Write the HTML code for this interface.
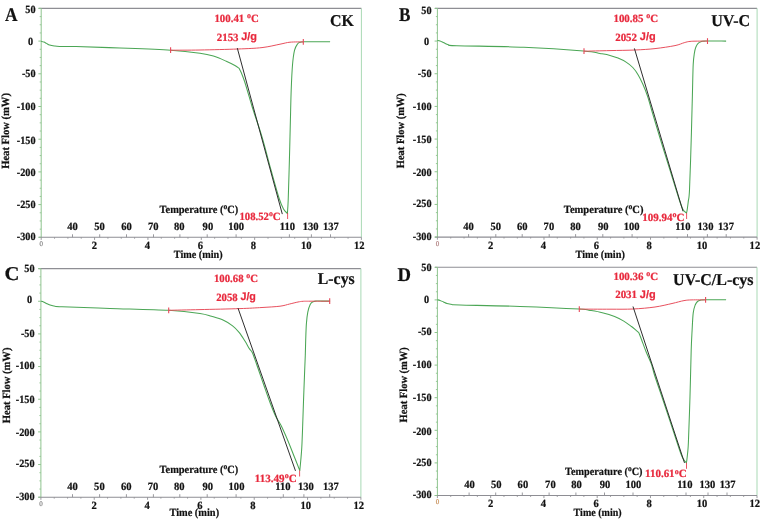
<!DOCTYPE html>
<html><head><meta charset="utf-8"><style>
html,body{margin:0;padding:0;background:#fff;}
svg{display:block;text-rendering:geometricPrecision;filter:blur(0.3px);}
</style></head><body>
<svg width="764" height="521" viewBox="0 0 764 521">
<rect width="764" height="521" fill="#fff"/>
<line x1="38.70" y1="8.40" x2="361.40" y2="8.40" stroke="#8e8e94" stroke-width="1.1"/>
<line x1="361.40" y1="8.40" x2="361.40" y2="237.30" stroke="#a9d9b5" stroke-width="1"/>
<line x1="41.20" y1="8.40" x2="41.20" y2="237.30" stroke="#8fc48f" stroke-width="1"/>
<line x1="38.70" y1="237.30" x2="361.40" y2="237.30" stroke="#8e8e94" stroke-width="1.1"/>
<line x1="38.40" y1="8.40" x2="41.20" y2="8.40" stroke="#8fc48f" stroke-width="1"/>
<line x1="39.70" y1="16.58" x2="41.20" y2="16.58" stroke="#8fc48f" stroke-width="0.9"/>
<line x1="39.70" y1="24.75" x2="41.20" y2="24.75" stroke="#8fc48f" stroke-width="0.9"/>
<line x1="39.70" y1="32.93" x2="41.20" y2="32.93" stroke="#8fc48f" stroke-width="0.9"/>
<line x1="38.40" y1="41.10" x2="41.20" y2="41.10" stroke="#8fc48f" stroke-width="1"/>
<line x1="39.70" y1="49.27" x2="41.20" y2="49.27" stroke="#8fc48f" stroke-width="0.9"/>
<line x1="39.70" y1="57.45" x2="41.20" y2="57.45" stroke="#8fc48f" stroke-width="0.9"/>
<line x1="39.70" y1="65.62" x2="41.20" y2="65.62" stroke="#8fc48f" stroke-width="0.9"/>
<line x1="38.40" y1="73.80" x2="41.20" y2="73.80" stroke="#8fc48f" stroke-width="1"/>
<line x1="39.70" y1="81.98" x2="41.20" y2="81.98" stroke="#8fc48f" stroke-width="0.9"/>
<line x1="39.70" y1="90.15" x2="41.20" y2="90.15" stroke="#8fc48f" stroke-width="0.9"/>
<line x1="39.70" y1="98.33" x2="41.20" y2="98.33" stroke="#8fc48f" stroke-width="0.9"/>
<line x1="38.40" y1="106.50" x2="41.20" y2="106.50" stroke="#8fc48f" stroke-width="1"/>
<line x1="39.70" y1="114.68" x2="41.20" y2="114.68" stroke="#8fc48f" stroke-width="0.9"/>
<line x1="39.70" y1="122.85" x2="41.20" y2="122.85" stroke="#8fc48f" stroke-width="0.9"/>
<line x1="39.70" y1="131.03" x2="41.20" y2="131.03" stroke="#8fc48f" stroke-width="0.9"/>
<line x1="38.40" y1="139.20" x2="41.20" y2="139.20" stroke="#8fc48f" stroke-width="1"/>
<line x1="39.70" y1="147.38" x2="41.20" y2="147.38" stroke="#8fc48f" stroke-width="0.9"/>
<line x1="39.70" y1="155.55" x2="41.20" y2="155.55" stroke="#8fc48f" stroke-width="0.9"/>
<line x1="39.70" y1="163.73" x2="41.20" y2="163.73" stroke="#8fc48f" stroke-width="0.9"/>
<line x1="38.40" y1="171.90" x2="41.20" y2="171.90" stroke="#8fc48f" stroke-width="1"/>
<line x1="39.70" y1="180.08" x2="41.20" y2="180.08" stroke="#8fc48f" stroke-width="0.9"/>
<line x1="39.70" y1="188.25" x2="41.20" y2="188.25" stroke="#8fc48f" stroke-width="0.9"/>
<line x1="39.70" y1="196.43" x2="41.20" y2="196.43" stroke="#8fc48f" stroke-width="0.9"/>
<line x1="38.40" y1="204.60" x2="41.20" y2="204.60" stroke="#8fc48f" stroke-width="1"/>
<line x1="39.70" y1="212.78" x2="41.20" y2="212.78" stroke="#8fc48f" stroke-width="0.9"/>
<line x1="39.70" y1="220.95" x2="41.20" y2="220.95" stroke="#8fc48f" stroke-width="0.9"/>
<line x1="39.70" y1="229.13" x2="41.20" y2="229.13" stroke="#8fc48f" stroke-width="0.9"/>
<line x1="38.40" y1="237.30" x2="41.20" y2="237.30" stroke="#8fc48f" stroke-width="1"/>
<text transform="translate(35.60,13.39) scale(0.930,1)" font-size="11.00" text-anchor="end" fill="#111" stroke="#111" stroke-width="0.22" font-weight="bold" font-family='"Liberation Serif", serif' >50</text>
<text transform="translate(33.10,44.74) scale(0.930,1)" font-size="11.00" text-anchor="end" fill="#111" stroke="#111" stroke-width="0.22" font-weight="bold" font-family='"Liberation Serif", serif' >0</text>
<text transform="translate(35.60,76.99) scale(0.930,1)" font-size="11.00" text-anchor="end" fill="#111" stroke="#111" stroke-width="0.22" font-weight="bold" font-family='"Liberation Serif", serif' >-50</text>
<text transform="translate(35.60,110.34) scale(0.930,1)" font-size="11.00" text-anchor="end" fill="#111" stroke="#111" stroke-width="0.22" font-weight="bold" font-family='"Liberation Serif", serif' >-100</text>
<text transform="translate(35.60,143.54) scale(0.930,1)" font-size="11.00" text-anchor="end" fill="#111" stroke="#111" stroke-width="0.22" font-weight="bold" font-family='"Liberation Serif", serif' >-150</text>
<text transform="translate(35.60,176.44) scale(0.930,1)" font-size="11.00" text-anchor="end" fill="#111" stroke="#111" stroke-width="0.22" font-weight="bold" font-family='"Liberation Serif", serif' >-200</text>
<text transform="translate(35.60,207.64) scale(0.930,1)" font-size="11.00" text-anchor="end" fill="#111" stroke="#111" stroke-width="0.22" font-weight="bold" font-family='"Liberation Serif", serif' >-250</text>
<text transform="translate(35.60,239.99) scale(0.930,1)" font-size="11.00" text-anchor="end" fill="#111" stroke="#111" stroke-width="0.22" font-weight="bold" font-family='"Liberation Serif", serif' >-300</text>
<line x1="41.20" y1="237.30" x2="41.20" y2="239.90" stroke="#8e8e94" stroke-width="0.9"/>
<line x1="54.54" y1="237.30" x2="54.54" y2="238.70" stroke="#8e8e94" stroke-width="0.9"/>
<line x1="67.88" y1="237.30" x2="67.88" y2="238.70" stroke="#8e8e94" stroke-width="0.9"/>
<line x1="81.22" y1="237.30" x2="81.22" y2="238.70" stroke="#8e8e94" stroke-width="0.9"/>
<line x1="94.57" y1="237.30" x2="94.57" y2="239.90" stroke="#8e8e94" stroke-width="0.9"/>
<line x1="107.91" y1="237.30" x2="107.91" y2="238.70" stroke="#8e8e94" stroke-width="0.9"/>
<line x1="121.25" y1="237.30" x2="121.25" y2="238.70" stroke="#8e8e94" stroke-width="0.9"/>
<line x1="134.59" y1="237.30" x2="134.59" y2="238.70" stroke="#8e8e94" stroke-width="0.9"/>
<line x1="147.93" y1="237.30" x2="147.93" y2="239.90" stroke="#8e8e94" stroke-width="0.9"/>
<line x1="161.28" y1="237.30" x2="161.28" y2="238.70" stroke="#8e8e94" stroke-width="0.9"/>
<line x1="174.62" y1="237.30" x2="174.62" y2="238.70" stroke="#8e8e94" stroke-width="0.9"/>
<line x1="187.96" y1="237.30" x2="187.96" y2="238.70" stroke="#8e8e94" stroke-width="0.9"/>
<line x1="201.30" y1="237.30" x2="201.30" y2="239.90" stroke="#8e8e94" stroke-width="0.9"/>
<line x1="214.64" y1="237.30" x2="214.64" y2="238.70" stroke="#8e8e94" stroke-width="0.9"/>
<line x1="227.98" y1="237.30" x2="227.98" y2="238.70" stroke="#8e8e94" stroke-width="0.9"/>
<line x1="241.32" y1="237.30" x2="241.32" y2="238.70" stroke="#8e8e94" stroke-width="0.9"/>
<line x1="254.67" y1="237.30" x2="254.67" y2="239.90" stroke="#8e8e94" stroke-width="0.9"/>
<line x1="268.01" y1="237.30" x2="268.01" y2="238.70" stroke="#8e8e94" stroke-width="0.9"/>
<line x1="281.35" y1="237.30" x2="281.35" y2="238.70" stroke="#8e8e94" stroke-width="0.9"/>
<line x1="294.69" y1="237.30" x2="294.69" y2="238.70" stroke="#8e8e94" stroke-width="0.9"/>
<line x1="308.03" y1="237.30" x2="308.03" y2="239.90" stroke="#8e8e94" stroke-width="0.9"/>
<line x1="321.38" y1="237.30" x2="321.38" y2="238.70" stroke="#8e8e94" stroke-width="0.9"/>
<line x1="334.72" y1="237.30" x2="334.72" y2="238.70" stroke="#8e8e94" stroke-width="0.9"/>
<line x1="348.06" y1="237.30" x2="348.06" y2="238.70" stroke="#8e8e94" stroke-width="0.9"/>
<line x1="361.40" y1="237.30" x2="361.40" y2="239.90" stroke="#8e8e94" stroke-width="0.9"/>
<text transform="translate(94.47,248.70) scale(0.960,1)" font-size="11.00" text-anchor="middle" fill="#111" stroke="#111" stroke-width="0.22" font-weight="bold" font-family='"Liberation Serif", serif' >2</text>
<text transform="translate(147.41,248.70) scale(0.960,1)" font-size="11.00" text-anchor="middle" fill="#111" stroke="#111" stroke-width="0.22" font-weight="bold" font-family='"Liberation Serif", serif' >4</text>
<text transform="translate(200.36,248.70) scale(0.960,1)" font-size="11.00" text-anchor="middle" fill="#111" stroke="#111" stroke-width="0.22" font-weight="bold" font-family='"Liberation Serif", serif' >6</text>
<text transform="translate(253.30,248.70) scale(0.960,1)" font-size="11.00" text-anchor="middle" fill="#111" stroke="#111" stroke-width="0.22" font-weight="bold" font-family='"Liberation Serif", serif' >8</text>
<text transform="translate(306.25,248.70) scale(0.960,1)" font-size="11.00" text-anchor="middle" fill="#111" stroke="#111" stroke-width="0.22" font-weight="bold" font-family='"Liberation Serif", serif' >10</text>
<text transform="translate(359.19,248.70) scale(0.960,1)" font-size="11.00" text-anchor="middle" fill="#111" stroke="#111" stroke-width="0.22" font-weight="bold" font-family='"Liberation Serif", serif' >12</text>
<text x="41.20" y="245.90" font-size="7.00" text-anchor="middle" fill="#8a8a8a" stroke="#8a8a8a" stroke-width="0.22" font-weight="normal" font-family='"Liberation Serif", serif' >0</text>
<line x1="72.50" y1="237.30" x2="72.50" y2="234.30" stroke="#8e8e94" stroke-width="0.9"/>
<text transform="translate(72.50,230.00) scale(0.960,1)" font-size="11.00" text-anchor="middle" fill="#111" stroke="#111" stroke-width="0.22" font-weight="bold" font-family='"Liberation Serif", serif' >40</text>
<line x1="99.70" y1="237.30" x2="99.70" y2="234.30" stroke="#8e8e94" stroke-width="0.9"/>
<text transform="translate(99.50,230.00) scale(0.960,1)" font-size="11.00" text-anchor="middle" fill="#111" stroke="#111" stroke-width="0.22" font-weight="bold" font-family='"Liberation Serif", serif' >50</text>
<line x1="126.50" y1="237.30" x2="126.50" y2="234.30" stroke="#8e8e94" stroke-width="0.9"/>
<text transform="translate(126.50,230.00) scale(0.960,1)" font-size="11.00" text-anchor="middle" fill="#111" stroke="#111" stroke-width="0.22" font-weight="bold" font-family='"Liberation Serif", serif' >60</text>
<line x1="153.50" y1="237.30" x2="153.50" y2="234.30" stroke="#8e8e94" stroke-width="0.9"/>
<text transform="translate(153.30,230.00) scale(0.960,1)" font-size="11.00" text-anchor="middle" fill="#111" stroke="#111" stroke-width="0.22" font-weight="bold" font-family='"Liberation Serif", serif' >70</text>
<line x1="179.90" y1="237.30" x2="179.90" y2="234.30" stroke="#8e8e94" stroke-width="0.9"/>
<text transform="translate(179.30,230.00) scale(0.960,1)" font-size="11.00" text-anchor="middle" fill="#111" stroke="#111" stroke-width="0.22" font-weight="bold" font-family='"Liberation Serif", serif' >80</text>
<line x1="207.20" y1="237.30" x2="207.20" y2="234.30" stroke="#8e8e94" stroke-width="0.9"/>
<text transform="translate(207.90,230.00) scale(0.960,1)" font-size="11.00" text-anchor="middle" fill="#111" stroke="#111" stroke-width="0.22" font-weight="bold" font-family='"Liberation Serif", serif' >90</text>
<line x1="236.10" y1="237.30" x2="236.10" y2="234.30" stroke="#8e8e94" stroke-width="0.9"/>
<text transform="translate(236.20,230.00) scale(0.960,1)" font-size="11.00" text-anchor="middle" fill="#111" stroke="#111" stroke-width="0.22" font-weight="bold" font-family='"Liberation Serif", serif' >100</text>
<line x1="289.40" y1="237.30" x2="289.40" y2="234.30" stroke="#8e8e94" stroke-width="0.9"/>
<text transform="translate(287.50,230.00) scale(0.960,1)" font-size="11.00" text-anchor="middle" fill="#111" stroke="#111" stroke-width="0.22" font-weight="bold" font-family='"Liberation Serif", serif' >110</text>
<line x1="311.40" y1="237.30" x2="311.40" y2="234.30" stroke="#8e8e94" stroke-width="0.9"/>
<text transform="translate(310.60,230.00) scale(0.960,1)" font-size="11.00" text-anchor="middle" fill="#111" stroke="#111" stroke-width="0.22" font-weight="bold" font-family='"Liberation Serif", serif' >130</text>
<line x1="330.50" y1="237.30" x2="330.50" y2="234.30" stroke="#8e8e94" stroke-width="0.9"/>
<text transform="translate(330.80,230.00) scale(0.960,1)" font-size="11.00" text-anchor="middle" fill="#111" stroke="#111" stroke-width="0.22" font-weight="bold" font-family='"Liberation Serif", serif' >137</text>
<path d="M41.20,41.30 C41.65,41.43 43.02,41.75 43.90,42.10 C44.78,42.45 45.55,42.92 46.50,43.40 C47.45,43.88 48.30,44.57 49.60,45.00 C50.90,45.43 52.63,45.77 54.30,46.00 C55.97,46.23 55.98,46.30 59.60,46.40 C63.22,46.50 65.93,46.33 76.00,46.60 C86.07,46.87 104.23,47.40 120.00,48.00 C135.77,48.60 157.27,49.33 170.60,50.20 C183.93,51.07 192.87,52.22 200.00,53.20 C207.13,54.18 208.93,54.72 213.40,56.10 C217.87,57.48 223.22,59.93 226.80,61.50 C230.38,63.07 232.83,64.33 234.90,65.50 C236.97,66.67 238.48,68.00 239.20,68.50 C239.53,69.17 240.30,70.33 241.20,72.50 C242.10,74.67 243.45,78.07 244.60,81.50 C245.75,84.93 246.95,89.25 248.10,93.10 C249.25,96.95 250.52,101.37 251.50,104.60 C252.48,107.83 252.25,107.10 254.00,112.50 C255.75,117.90 259.17,127.42 262.00,137.00 C264.83,146.58 268.17,159.83 271.00,170.00 C273.83,180.17 276.92,191.50 279.00,198.00 C281.08,204.50 282.10,206.43 283.50,209.00 C284.90,211.57 286.75,212.67 287.40,213.40 C287.53,211.17 287.87,208.90 288.20,200.00 C288.53,191.10 289.03,173.33 289.40,160.00 C289.77,146.67 290.10,131.67 290.40,120.00 C290.70,108.33 290.85,99.17 291.20,90.00 C291.55,80.83 291.95,71.60 292.50,65.00 C293.05,58.40 293.67,53.90 294.50,50.40 C295.33,46.90 296.50,45.37 297.50,44.00 C298.50,42.63 299.25,42.57 300.50,42.20 C301.75,41.83 300.07,41.88 305.00,41.80 C309.93,41.72 325.92,41.72 330.10,41.70" fill="none" stroke="#4ba655" stroke-width="1.05" stroke-linejoin="round"/>
<path d="M170.60,50.20 C175.50,50.17 188.80,50.20 200.00,50.00 C211.20,49.80 227.47,49.40 237.80,49.00 C248.13,48.60 254.97,48.40 262.00,47.60 C269.03,46.80 275.33,45.10 280.00,44.20 C284.67,43.30 286.12,42.58 290.00,42.20 C293.88,41.82 301.08,41.95 303.30,41.90" fill="none" stroke="#e8505e" stroke-width="1" stroke-linejoin="round"/>
<line x1="170.60" y1="47.30" x2="170.60" y2="53.10" stroke="#e8485a" stroke-width="1.1"/>
<line x1="303.30" y1="39.00" x2="303.30" y2="44.80" stroke="#e8485a" stroke-width="1.1"/>
<line x1="237.30" y1="48.10" x2="282.30" y2="214.10" stroke="#2e2e2e" stroke-width="1.0"/>
<line x1="287.60" y1="213.00" x2="287.60" y2="219.00" stroke="#e8283c" stroke-width="1" opacity="0.8"/>
<line x1="434.90" y1="8.40" x2="757.10" y2="8.40" stroke="#8e8e94" stroke-width="1.1"/>
<line x1="757.10" y1="8.40" x2="757.10" y2="237.10" stroke="#a9d9b5" stroke-width="1"/>
<line x1="437.40" y1="8.40" x2="437.40" y2="237.10" stroke="#8fc48f" stroke-width="1"/>
<line x1="434.90" y1="237.10" x2="757.10" y2="237.10" stroke="#8e8e94" stroke-width="1.1"/>
<line x1="434.60" y1="8.40" x2="437.40" y2="8.40" stroke="#8fc48f" stroke-width="1"/>
<line x1="435.90" y1="16.57" x2="437.40" y2="16.57" stroke="#8fc48f" stroke-width="0.9"/>
<line x1="435.90" y1="24.74" x2="437.40" y2="24.74" stroke="#8fc48f" stroke-width="0.9"/>
<line x1="435.90" y1="32.90" x2="437.40" y2="32.90" stroke="#8fc48f" stroke-width="0.9"/>
<line x1="434.60" y1="41.07" x2="437.40" y2="41.07" stroke="#8fc48f" stroke-width="1"/>
<line x1="435.90" y1="49.24" x2="437.40" y2="49.24" stroke="#8fc48f" stroke-width="0.9"/>
<line x1="435.90" y1="57.41" x2="437.40" y2="57.41" stroke="#8fc48f" stroke-width="0.9"/>
<line x1="435.90" y1="65.58" x2="437.40" y2="65.58" stroke="#8fc48f" stroke-width="0.9"/>
<line x1="434.60" y1="73.74" x2="437.40" y2="73.74" stroke="#8fc48f" stroke-width="1"/>
<line x1="435.90" y1="81.91" x2="437.40" y2="81.91" stroke="#8fc48f" stroke-width="0.9"/>
<line x1="435.90" y1="90.08" x2="437.40" y2="90.08" stroke="#8fc48f" stroke-width="0.9"/>
<line x1="435.90" y1="98.25" x2="437.40" y2="98.25" stroke="#8fc48f" stroke-width="0.9"/>
<line x1="434.60" y1="106.41" x2="437.40" y2="106.41" stroke="#8fc48f" stroke-width="1"/>
<line x1="435.90" y1="114.58" x2="437.40" y2="114.58" stroke="#8fc48f" stroke-width="0.9"/>
<line x1="435.90" y1="122.75" x2="437.40" y2="122.75" stroke="#8fc48f" stroke-width="0.9"/>
<line x1="435.90" y1="130.92" x2="437.40" y2="130.92" stroke="#8fc48f" stroke-width="0.9"/>
<line x1="434.60" y1="139.09" x2="437.40" y2="139.09" stroke="#8fc48f" stroke-width="1"/>
<line x1="435.90" y1="147.25" x2="437.40" y2="147.25" stroke="#8fc48f" stroke-width="0.9"/>
<line x1="435.90" y1="155.42" x2="437.40" y2="155.42" stroke="#8fc48f" stroke-width="0.9"/>
<line x1="435.90" y1="163.59" x2="437.40" y2="163.59" stroke="#8fc48f" stroke-width="0.9"/>
<line x1="434.60" y1="171.76" x2="437.40" y2="171.76" stroke="#8fc48f" stroke-width="1"/>
<line x1="435.90" y1="179.92" x2="437.40" y2="179.92" stroke="#8fc48f" stroke-width="0.9"/>
<line x1="435.90" y1="188.09" x2="437.40" y2="188.09" stroke="#8fc48f" stroke-width="0.9"/>
<line x1="435.90" y1="196.26" x2="437.40" y2="196.26" stroke="#8fc48f" stroke-width="0.9"/>
<line x1="434.60" y1="204.43" x2="437.40" y2="204.43" stroke="#8fc48f" stroke-width="1"/>
<line x1="435.90" y1="212.60" x2="437.40" y2="212.60" stroke="#8fc48f" stroke-width="0.9"/>
<line x1="435.90" y1="220.76" x2="437.40" y2="220.76" stroke="#8fc48f" stroke-width="0.9"/>
<line x1="435.90" y1="228.93" x2="437.40" y2="228.93" stroke="#8fc48f" stroke-width="0.9"/>
<line x1="434.60" y1="237.10" x2="437.40" y2="237.10" stroke="#8fc48f" stroke-width="1"/>
<text transform="translate(431.50,13.84) scale(0.930,1)" font-size="11.00" text-anchor="end" fill="#111" stroke="#111" stroke-width="0.22" font-weight="bold" font-family='"Liberation Serif", serif' >50</text>
<text transform="translate(429.00,44.71) scale(0.930,1)" font-size="11.00" text-anchor="end" fill="#111" stroke="#111" stroke-width="0.22" font-weight="bold" font-family='"Liberation Serif", serif' >0</text>
<text transform="translate(431.50,77.03) scale(0.930,1)" font-size="11.00" text-anchor="end" fill="#111" stroke="#111" stroke-width="0.22" font-weight="bold" font-family='"Liberation Serif", serif' >-50</text>
<text transform="translate(431.50,110.25) scale(0.930,1)" font-size="11.00" text-anchor="end" fill="#111" stroke="#111" stroke-width="0.22" font-weight="bold" font-family='"Liberation Serif", serif' >-100</text>
<text transform="translate(431.50,143.43) scale(0.930,1)" font-size="11.00" text-anchor="end" fill="#111" stroke="#111" stroke-width="0.22" font-weight="bold" font-family='"Liberation Serif", serif' >-150</text>
<text transform="translate(431.50,176.30) scale(0.930,1)" font-size="11.00" text-anchor="end" fill="#111" stroke="#111" stroke-width="0.22" font-weight="bold" font-family='"Liberation Serif", serif' >-200</text>
<text transform="translate(431.50,207.47) scale(0.930,1)" font-size="11.00" text-anchor="end" fill="#111" stroke="#111" stroke-width="0.22" font-weight="bold" font-family='"Liberation Serif", serif' >-250</text>
<text transform="translate(431.50,239.79) scale(0.930,1)" font-size="11.00" text-anchor="end" fill="#111" stroke="#111" stroke-width="0.22" font-weight="bold" font-family='"Liberation Serif", serif' >-300</text>
<line x1="437.40" y1="237.10" x2="437.40" y2="239.70" stroke="#8e8e94" stroke-width="0.9"/>
<line x1="450.72" y1="237.10" x2="450.72" y2="238.50" stroke="#8e8e94" stroke-width="0.9"/>
<line x1="464.04" y1="237.10" x2="464.04" y2="238.50" stroke="#8e8e94" stroke-width="0.9"/>
<line x1="477.36" y1="237.10" x2="477.36" y2="238.50" stroke="#8e8e94" stroke-width="0.9"/>
<line x1="490.68" y1="237.10" x2="490.68" y2="239.70" stroke="#8e8e94" stroke-width="0.9"/>
<line x1="504.00" y1="237.10" x2="504.00" y2="238.50" stroke="#8e8e94" stroke-width="0.9"/>
<line x1="517.33" y1="237.10" x2="517.33" y2="238.50" stroke="#8e8e94" stroke-width="0.9"/>
<line x1="530.65" y1="237.10" x2="530.65" y2="238.50" stroke="#8e8e94" stroke-width="0.9"/>
<line x1="543.97" y1="237.10" x2="543.97" y2="239.70" stroke="#8e8e94" stroke-width="0.9"/>
<line x1="557.29" y1="237.10" x2="557.29" y2="238.50" stroke="#8e8e94" stroke-width="0.9"/>
<line x1="570.61" y1="237.10" x2="570.61" y2="238.50" stroke="#8e8e94" stroke-width="0.9"/>
<line x1="583.93" y1="237.10" x2="583.93" y2="238.50" stroke="#8e8e94" stroke-width="0.9"/>
<line x1="597.25" y1="237.10" x2="597.25" y2="239.70" stroke="#8e8e94" stroke-width="0.9"/>
<line x1="610.57" y1="237.10" x2="610.57" y2="238.50" stroke="#8e8e94" stroke-width="0.9"/>
<line x1="623.89" y1="237.10" x2="623.89" y2="238.50" stroke="#8e8e94" stroke-width="0.9"/>
<line x1="637.21" y1="237.10" x2="637.21" y2="238.50" stroke="#8e8e94" stroke-width="0.9"/>
<line x1="650.53" y1="237.10" x2="650.53" y2="239.70" stroke="#8e8e94" stroke-width="0.9"/>
<line x1="663.85" y1="237.10" x2="663.85" y2="238.50" stroke="#8e8e94" stroke-width="0.9"/>
<line x1="677.17" y1="237.10" x2="677.17" y2="238.50" stroke="#8e8e94" stroke-width="0.9"/>
<line x1="690.50" y1="237.10" x2="690.50" y2="238.50" stroke="#8e8e94" stroke-width="0.9"/>
<line x1="703.82" y1="237.10" x2="703.82" y2="239.70" stroke="#8e8e94" stroke-width="0.9"/>
<line x1="717.14" y1="237.10" x2="717.14" y2="238.50" stroke="#8e8e94" stroke-width="0.9"/>
<line x1="730.46" y1="237.10" x2="730.46" y2="238.50" stroke="#8e8e94" stroke-width="0.9"/>
<line x1="743.78" y1="237.10" x2="743.78" y2="238.50" stroke="#8e8e94" stroke-width="0.9"/>
<line x1="757.10" y1="237.10" x2="757.10" y2="239.70" stroke="#8e8e94" stroke-width="0.9"/>
<text transform="translate(490.58,248.50) scale(0.960,1)" font-size="11.00" text-anchor="middle" fill="#111" stroke="#111" stroke-width="0.22" font-weight="bold" font-family='"Liberation Serif", serif' >2</text>
<text transform="translate(543.45,248.50) scale(0.960,1)" font-size="11.00" text-anchor="middle" fill="#111" stroke="#111" stroke-width="0.22" font-weight="bold" font-family='"Liberation Serif", serif' >4</text>
<text transform="translate(596.31,248.50) scale(0.960,1)" font-size="11.00" text-anchor="middle" fill="#111" stroke="#111" stroke-width="0.22" font-weight="bold" font-family='"Liberation Serif", serif' >6</text>
<text transform="translate(649.17,248.50) scale(0.960,1)" font-size="11.00" text-anchor="middle" fill="#111" stroke="#111" stroke-width="0.22" font-weight="bold" font-family='"Liberation Serif", serif' >8</text>
<text transform="translate(702.03,248.50) scale(0.960,1)" font-size="11.00" text-anchor="middle" fill="#111" stroke="#111" stroke-width="0.22" font-weight="bold" font-family='"Liberation Serif", serif' >10</text>
<text transform="translate(754.90,248.50) scale(0.960,1)" font-size="11.00" text-anchor="middle" fill="#111" stroke="#111" stroke-width="0.22" font-weight="bold" font-family='"Liberation Serif", serif' >12</text>
<text x="437.40" y="245.70" font-size="7.00" text-anchor="middle" fill="#b08080" stroke="#b08080" stroke-width="0.22" font-weight="normal" font-family='"Liberation Serif", serif' >0</text>
<line x1="468.60" y1="237.10" x2="468.60" y2="234.10" stroke="#8e8e94" stroke-width="0.9"/>
<text transform="translate(468.60,229.60) scale(0.960,1)" font-size="11.00" text-anchor="middle" fill="#111" stroke="#111" stroke-width="0.22" font-weight="bold" font-family='"Liberation Serif", serif' >40</text>
<line x1="495.80" y1="237.10" x2="495.80" y2="234.10" stroke="#8e8e94" stroke-width="0.9"/>
<text transform="translate(495.70,229.60) scale(0.960,1)" font-size="11.00" text-anchor="middle" fill="#111" stroke="#111" stroke-width="0.22" font-weight="bold" font-family='"Liberation Serif", serif' >50</text>
<line x1="522.20" y1="237.10" x2="522.20" y2="234.10" stroke="#8e8e94" stroke-width="0.9"/>
<text transform="translate(522.30,229.60) scale(0.960,1)" font-size="11.00" text-anchor="middle" fill="#111" stroke="#111" stroke-width="0.22" font-weight="bold" font-family='"Liberation Serif", serif' >60</text>
<line x1="549.20" y1="237.10" x2="549.20" y2="234.10" stroke="#8e8e94" stroke-width="0.9"/>
<text transform="translate(548.90,229.60) scale(0.960,1)" font-size="11.00" text-anchor="middle" fill="#111" stroke="#111" stroke-width="0.22" font-weight="bold" font-family='"Liberation Serif", serif' >70</text>
<line x1="575.60" y1="237.10" x2="575.60" y2="234.10" stroke="#8e8e94" stroke-width="0.9"/>
<text transform="translate(575.50,229.60) scale(0.960,1)" font-size="11.00" text-anchor="middle" fill="#111" stroke="#111" stroke-width="0.22" font-weight="bold" font-family='"Liberation Serif", serif' >80</text>
<line x1="602.80" y1="237.10" x2="602.80" y2="234.10" stroke="#8e8e94" stroke-width="0.9"/>
<text transform="translate(603.20,229.60) scale(0.960,1)" font-size="11.00" text-anchor="middle" fill="#111" stroke="#111" stroke-width="0.22" font-weight="bold" font-family='"Liberation Serif", serif' >90</text>
<line x1="632.10" y1="237.10" x2="632.10" y2="234.10" stroke="#8e8e94" stroke-width="0.9"/>
<text transform="translate(631.60,229.60) scale(0.960,1)" font-size="11.00" text-anchor="middle" fill="#111" stroke="#111" stroke-width="0.22" font-weight="bold" font-family='"Liberation Serif", serif' >100</text>
<line x1="687.50" y1="237.10" x2="687.50" y2="234.10" stroke="#8e8e94" stroke-width="0.9"/>
<text transform="translate(683.00,229.60) scale(0.960,1)" font-size="11.00" text-anchor="middle" fill="#111" stroke="#111" stroke-width="0.22" font-weight="bold" font-family='"Liberation Serif", serif' >110</text>
<line x1="707.40" y1="237.10" x2="707.40" y2="234.10" stroke="#8e8e94" stroke-width="0.9"/>
<text transform="translate(705.50,229.60) scale(0.960,1)" font-size="11.00" text-anchor="middle" fill="#111" stroke="#111" stroke-width="0.22" font-weight="bold" font-family='"Liberation Serif", serif' >130</text>
<line x1="726.20" y1="237.10" x2="726.20" y2="234.10" stroke="#8e8e94" stroke-width="0.9"/>
<text transform="translate(726.00,229.60) scale(0.960,1)" font-size="11.00" text-anchor="middle" fill="#111" stroke="#111" stroke-width="0.22" font-weight="bold" font-family='"Liberation Serif", serif' >137</text>
<path d="M437.40,40.50 C437.83,40.57 438.90,40.52 440.00,40.90 C441.10,41.28 442.60,42.17 444.00,42.80 C445.40,43.43 446.27,44.22 448.40,44.70 C450.53,45.18 444.23,45.28 456.80,45.70 C469.37,46.12 502.68,46.33 523.80,47.20 C544.92,48.07 570.80,49.85 583.50,50.90 C596.20,51.95 595.58,52.75 600.00,53.50 C604.42,54.25 607.00,54.63 610.00,55.40 C613.00,56.17 615.32,56.98 618.00,58.10 C620.68,59.22 623.63,60.53 626.10,62.10 C628.57,63.67 630.78,65.37 632.80,67.50 C634.82,69.63 636.52,72.10 638.20,74.90 C639.88,77.70 641.33,80.72 642.90,84.30 C644.47,87.88 646.15,92.12 647.60,96.40 C649.05,100.68 649.53,103.07 651.60,110.00 C653.67,116.93 656.93,128.00 660.00,138.00 C663.07,148.00 666.83,159.83 670.00,170.00 C673.17,180.17 676.83,192.40 679.00,199.00 C681.17,205.60 681.75,207.27 683.00,209.60 C684.25,211.93 685.92,212.43 686.50,213.00 C687.03,211.67 687.75,205.93 688.20,202.00 C688.65,198.07 689.00,200.33 689.50,190.00 C690.00,179.67 690.72,155.83 691.20,140.00 C691.68,124.17 692.07,107.57 692.40,95.00 C692.73,82.43 692.87,71.58 693.20,64.60 C693.53,57.62 693.97,55.98 694.40,53.10 C694.83,50.22 695.18,48.93 695.80,47.30 C696.42,45.67 697.15,44.27 698.10,43.30 C699.05,42.33 700.35,41.87 701.50,41.50 C702.65,41.13 700.90,41.17 705.00,41.10 C709.10,41.03 722.58,41.10 726.10,41.10" fill="none" stroke="#4ba655" stroke-width="1.05" stroke-linejoin="round"/>
<path d="M584.00,51.20 C588.33,51.10 601.52,50.80 610.00,50.60 C618.48,50.40 627.40,50.33 634.90,50.00 C642.40,49.67 648.32,49.33 655.00,48.60 C661.68,47.87 670.13,46.58 675.00,45.60 C679.87,44.62 681.50,43.42 684.20,42.70 C686.90,41.98 687.32,41.57 691.20,41.30 C695.08,41.03 704.78,41.13 707.50,41.10" fill="none" stroke="#e8505e" stroke-width="1" stroke-linejoin="round"/>
<line x1="584.00" y1="48.30" x2="584.00" y2="54.10" stroke="#e8485a" stroke-width="1.1"/>
<line x1="707.50" y1="38.20" x2="707.50" y2="44.00" stroke="#e8485a" stroke-width="1.1"/>
<line x1="634.40" y1="48.40" x2="683.00" y2="211.30" stroke="#2e2e2e" stroke-width="1.0"/>
<line x1="686.60" y1="213.00" x2="686.60" y2="219.00" stroke="#e8283c" stroke-width="1" opacity="0.8"/>
<line x1="38.40" y1="268.60" x2="360.90" y2="268.60" stroke="#8e8e94" stroke-width="1.1"/>
<line x1="360.90" y1="268.60" x2="360.90" y2="497.20" stroke="#a9d9b5" stroke-width="1"/>
<line x1="40.90" y1="268.60" x2="40.90" y2="497.20" stroke="#8fc48f" stroke-width="1"/>
<line x1="38.40" y1="497.20" x2="360.90" y2="497.20" stroke="#8e8e94" stroke-width="1.1"/>
<line x1="38.10" y1="268.60" x2="40.90" y2="268.60" stroke="#8fc48f" stroke-width="1"/>
<line x1="39.40" y1="276.76" x2="40.90" y2="276.76" stroke="#8fc48f" stroke-width="0.9"/>
<line x1="39.40" y1="284.93" x2="40.90" y2="284.93" stroke="#8fc48f" stroke-width="0.9"/>
<line x1="39.40" y1="293.09" x2="40.90" y2="293.09" stroke="#8fc48f" stroke-width="0.9"/>
<line x1="38.10" y1="301.26" x2="40.90" y2="301.26" stroke="#8fc48f" stroke-width="1"/>
<line x1="39.40" y1="309.42" x2="40.90" y2="309.42" stroke="#8fc48f" stroke-width="0.9"/>
<line x1="39.40" y1="317.59" x2="40.90" y2="317.59" stroke="#8fc48f" stroke-width="0.9"/>
<line x1="39.40" y1="325.75" x2="40.90" y2="325.75" stroke="#8fc48f" stroke-width="0.9"/>
<line x1="38.10" y1="333.91" x2="40.90" y2="333.91" stroke="#8fc48f" stroke-width="1"/>
<line x1="39.40" y1="342.08" x2="40.90" y2="342.08" stroke="#8fc48f" stroke-width="0.9"/>
<line x1="39.40" y1="350.24" x2="40.90" y2="350.24" stroke="#8fc48f" stroke-width="0.9"/>
<line x1="39.40" y1="358.41" x2="40.90" y2="358.41" stroke="#8fc48f" stroke-width="0.9"/>
<line x1="38.10" y1="366.57" x2="40.90" y2="366.57" stroke="#8fc48f" stroke-width="1"/>
<line x1="39.40" y1="374.74" x2="40.90" y2="374.74" stroke="#8fc48f" stroke-width="0.9"/>
<line x1="39.40" y1="382.90" x2="40.90" y2="382.90" stroke="#8fc48f" stroke-width="0.9"/>
<line x1="39.40" y1="391.06" x2="40.90" y2="391.06" stroke="#8fc48f" stroke-width="0.9"/>
<line x1="38.10" y1="399.23" x2="40.90" y2="399.23" stroke="#8fc48f" stroke-width="1"/>
<line x1="39.40" y1="407.39" x2="40.90" y2="407.39" stroke="#8fc48f" stroke-width="0.9"/>
<line x1="39.40" y1="415.56" x2="40.90" y2="415.56" stroke="#8fc48f" stroke-width="0.9"/>
<line x1="39.40" y1="423.72" x2="40.90" y2="423.72" stroke="#8fc48f" stroke-width="0.9"/>
<line x1="38.10" y1="431.89" x2="40.90" y2="431.89" stroke="#8fc48f" stroke-width="1"/>
<line x1="39.40" y1="440.05" x2="40.90" y2="440.05" stroke="#8fc48f" stroke-width="0.9"/>
<line x1="39.40" y1="448.21" x2="40.90" y2="448.21" stroke="#8fc48f" stroke-width="0.9"/>
<line x1="39.40" y1="456.38" x2="40.90" y2="456.38" stroke="#8fc48f" stroke-width="0.9"/>
<line x1="38.10" y1="464.54" x2="40.90" y2="464.54" stroke="#8fc48f" stroke-width="1"/>
<line x1="39.40" y1="472.71" x2="40.90" y2="472.71" stroke="#8fc48f" stroke-width="0.9"/>
<line x1="39.40" y1="480.87" x2="40.90" y2="480.87" stroke="#8fc48f" stroke-width="0.9"/>
<line x1="39.40" y1="489.04" x2="40.90" y2="489.04" stroke="#8fc48f" stroke-width="0.9"/>
<line x1="38.10" y1="497.20" x2="40.90" y2="497.20" stroke="#8fc48f" stroke-width="1"/>
<text transform="translate(34.60,272.44) scale(0.930,1)" font-size="11.00" text-anchor="end" fill="#111" stroke="#111" stroke-width="0.22" font-weight="bold" font-family='"Liberation Serif", serif' >50</text>
<text transform="translate(32.10,302.95) scale(0.930,1)" font-size="11.00" text-anchor="end" fill="#111" stroke="#111" stroke-width="0.22" font-weight="bold" font-family='"Liberation Serif", serif' >0</text>
<text transform="translate(34.60,336.75) scale(0.930,1)" font-size="11.00" text-anchor="end" fill="#111" stroke="#111" stroke-width="0.22" font-weight="bold" font-family='"Liberation Serif", serif' >-50</text>
<text transform="translate(34.60,369.46) scale(0.930,1)" font-size="11.00" text-anchor="end" fill="#111" stroke="#111" stroke-width="0.22" font-weight="bold" font-family='"Liberation Serif", serif' >-100</text>
<text transform="translate(34.60,402.52) scale(0.930,1)" font-size="11.00" text-anchor="end" fill="#111" stroke="#111" stroke-width="0.22" font-weight="bold" font-family='"Liberation Serif", serif' >-150</text>
<text transform="translate(34.60,435.98) scale(0.930,1)" font-size="11.00" text-anchor="end" fill="#111" stroke="#111" stroke-width="0.22" font-weight="bold" font-family='"Liberation Serif", serif' >-200</text>
<text transform="translate(34.60,467.18) scale(0.930,1)" font-size="11.00" text-anchor="end" fill="#111" stroke="#111" stroke-width="0.22" font-weight="bold" font-family='"Liberation Serif", serif' >-250</text>
<text transform="translate(34.60,499.59) scale(0.930,1)" font-size="11.00" text-anchor="end" fill="#111" stroke="#111" stroke-width="0.22" font-weight="bold" font-family='"Liberation Serif", serif' >-300</text>
<line x1="40.90" y1="497.20" x2="40.90" y2="499.80" stroke="#8e8e94" stroke-width="0.9"/>
<line x1="54.23" y1="497.20" x2="54.23" y2="498.60" stroke="#8e8e94" stroke-width="0.9"/>
<line x1="67.57" y1="497.20" x2="67.57" y2="498.60" stroke="#8e8e94" stroke-width="0.9"/>
<line x1="80.90" y1="497.20" x2="80.90" y2="498.60" stroke="#8e8e94" stroke-width="0.9"/>
<line x1="94.23" y1="497.20" x2="94.23" y2="499.80" stroke="#8e8e94" stroke-width="0.9"/>
<line x1="107.57" y1="497.20" x2="107.57" y2="498.60" stroke="#8e8e94" stroke-width="0.9"/>
<line x1="120.90" y1="497.20" x2="120.90" y2="498.60" stroke="#8e8e94" stroke-width="0.9"/>
<line x1="134.23" y1="497.20" x2="134.23" y2="498.60" stroke="#8e8e94" stroke-width="0.9"/>
<line x1="147.57" y1="497.20" x2="147.57" y2="499.80" stroke="#8e8e94" stroke-width="0.9"/>
<line x1="160.90" y1="497.20" x2="160.90" y2="498.60" stroke="#8e8e94" stroke-width="0.9"/>
<line x1="174.23" y1="497.20" x2="174.23" y2="498.60" stroke="#8e8e94" stroke-width="0.9"/>
<line x1="187.57" y1="497.20" x2="187.57" y2="498.60" stroke="#8e8e94" stroke-width="0.9"/>
<line x1="200.90" y1="497.20" x2="200.90" y2="499.80" stroke="#8e8e94" stroke-width="0.9"/>
<line x1="214.23" y1="497.20" x2="214.23" y2="498.60" stroke="#8e8e94" stroke-width="0.9"/>
<line x1="227.57" y1="497.20" x2="227.57" y2="498.60" stroke="#8e8e94" stroke-width="0.9"/>
<line x1="240.90" y1="497.20" x2="240.90" y2="498.60" stroke="#8e8e94" stroke-width="0.9"/>
<line x1="254.23" y1="497.20" x2="254.23" y2="499.80" stroke="#8e8e94" stroke-width="0.9"/>
<line x1="267.57" y1="497.20" x2="267.57" y2="498.60" stroke="#8e8e94" stroke-width="0.9"/>
<line x1="280.90" y1="497.20" x2="280.90" y2="498.60" stroke="#8e8e94" stroke-width="0.9"/>
<line x1="294.23" y1="497.20" x2="294.23" y2="498.60" stroke="#8e8e94" stroke-width="0.9"/>
<line x1="307.57" y1="497.20" x2="307.57" y2="499.80" stroke="#8e8e94" stroke-width="0.9"/>
<line x1="320.90" y1="497.20" x2="320.90" y2="498.60" stroke="#8e8e94" stroke-width="0.9"/>
<line x1="334.23" y1="497.20" x2="334.23" y2="498.60" stroke="#8e8e94" stroke-width="0.9"/>
<line x1="347.57" y1="497.20" x2="347.57" y2="498.60" stroke="#8e8e94" stroke-width="0.9"/>
<line x1="360.90" y1="497.20" x2="360.90" y2="499.80" stroke="#8e8e94" stroke-width="0.9"/>
<text transform="translate(94.13,508.60) scale(0.960,1)" font-size="11.00" text-anchor="middle" fill="#111" stroke="#111" stroke-width="0.22" font-weight="bold" font-family='"Liberation Serif", serif' >2</text>
<text transform="translate(147.05,508.60) scale(0.960,1)" font-size="11.00" text-anchor="middle" fill="#111" stroke="#111" stroke-width="0.22" font-weight="bold" font-family='"Liberation Serif", serif' >4</text>
<text transform="translate(199.96,508.60) scale(0.960,1)" font-size="11.00" text-anchor="middle" fill="#111" stroke="#111" stroke-width="0.22" font-weight="bold" font-family='"Liberation Serif", serif' >6</text>
<text transform="translate(252.87,508.60) scale(0.960,1)" font-size="11.00" text-anchor="middle" fill="#111" stroke="#111" stroke-width="0.22" font-weight="bold" font-family='"Liberation Serif", serif' >8</text>
<text transform="translate(305.78,508.60) scale(0.960,1)" font-size="11.00" text-anchor="middle" fill="#111" stroke="#111" stroke-width="0.22" font-weight="bold" font-family='"Liberation Serif", serif' >10</text>
<text transform="translate(358.69,508.60) scale(0.960,1)" font-size="11.00" text-anchor="middle" fill="#111" stroke="#111" stroke-width="0.22" font-weight="bold" font-family='"Liberation Serif", serif' >12</text>
<text x="40.90" y="505.80" font-size="7.00" text-anchor="middle" fill="#8a8a8a" stroke="#8a8a8a" stroke-width="0.22" font-weight="normal" font-family='"Liberation Serif", serif' >0</text>
<line x1="72.50" y1="497.20" x2="72.50" y2="494.20" stroke="#8e8e94" stroke-width="0.9"/>
<text transform="translate(72.50,489.70) scale(0.960,1)" font-size="11.00" text-anchor="middle" fill="#111" stroke="#111" stroke-width="0.22" font-weight="bold" font-family='"Liberation Serif", serif' >40</text>
<line x1="99.60" y1="497.20" x2="99.60" y2="494.20" stroke="#8e8e94" stroke-width="0.9"/>
<text transform="translate(99.40,489.70) scale(0.960,1)" font-size="11.00" text-anchor="middle" fill="#111" stroke="#111" stroke-width="0.22" font-weight="bold" font-family='"Liberation Serif", serif' >50</text>
<line x1="126.40" y1="497.20" x2="126.40" y2="494.20" stroke="#8e8e94" stroke-width="0.9"/>
<text transform="translate(126.30,489.70) scale(0.960,1)" font-size="11.00" text-anchor="middle" fill="#111" stroke="#111" stroke-width="0.22" font-weight="bold" font-family='"Liberation Serif", serif' >60</text>
<line x1="153.40" y1="497.20" x2="153.40" y2="494.20" stroke="#8e8e94" stroke-width="0.9"/>
<text transform="translate(153.10,489.70) scale(0.960,1)" font-size="11.00" text-anchor="middle" fill="#111" stroke="#111" stroke-width="0.22" font-weight="bold" font-family='"Liberation Serif", serif' >70</text>
<line x1="179.80" y1="497.20" x2="179.80" y2="494.20" stroke="#8e8e94" stroke-width="0.9"/>
<text transform="translate(179.30,489.70) scale(0.960,1)" font-size="11.00" text-anchor="middle" fill="#111" stroke="#111" stroke-width="0.22" font-weight="bold" font-family='"Liberation Serif", serif' >80</text>
<line x1="207.20" y1="497.20" x2="207.20" y2="494.20" stroke="#8e8e94" stroke-width="0.9"/>
<text transform="translate(207.80,489.70) scale(0.960,1)" font-size="11.00" text-anchor="middle" fill="#111" stroke="#111" stroke-width="0.22" font-weight="bold" font-family='"Liberation Serif", serif' >90</text>
<line x1="236.10" y1="497.20" x2="236.10" y2="494.20" stroke="#8e8e94" stroke-width="0.9"/>
<text transform="translate(236.50,489.70) scale(0.960,1)" font-size="11.00" text-anchor="middle" fill="#111" stroke="#111" stroke-width="0.22" font-weight="bold" font-family='"Liberation Serif", serif' >100</text>
<line x1="283.30" y1="497.20" x2="283.30" y2="494.20" stroke="#8e8e94" stroke-width="0.9"/>
<text transform="translate(283.00,489.70) scale(0.960,1)" font-size="11.00" text-anchor="middle" fill="#111" stroke="#111" stroke-width="0.22" font-weight="bold" font-family='"Liberation Serif", serif' >110</text>
<line x1="303.90" y1="497.20" x2="303.90" y2="494.20" stroke="#8e8e94" stroke-width="0.9"/>
<text transform="translate(305.90,489.70) scale(0.960,1)" font-size="11.00" text-anchor="middle" fill="#111" stroke="#111" stroke-width="0.22" font-weight="bold" font-family='"Liberation Serif", serif' >130</text>
<line x1="329.70" y1="497.20" x2="329.70" y2="494.20" stroke="#8e8e94" stroke-width="0.9"/>
<text transform="translate(330.90,489.70) scale(0.960,1)" font-size="11.00" text-anchor="middle" fill="#111" stroke="#111" stroke-width="0.22" font-weight="bold" font-family='"Liberation Serif", serif' >137</text>
<path d="M40.90,301.20 C41.33,301.33 42.57,301.62 43.50,302.00 C44.43,302.38 45.42,303.00 46.50,303.50 C47.58,304.00 48.58,304.53 50.00,305.00 C51.42,305.47 53.00,306.00 55.00,306.30 C57.00,306.60 52.83,306.45 62.00,306.80 C71.17,307.15 92.22,307.82 110.00,308.40 C127.78,308.98 153.70,309.47 168.70,310.30 C183.70,311.13 192.87,312.40 200.00,313.40 C207.13,314.40 207.67,315.18 211.50,316.30 C215.33,317.42 219.48,318.50 223.00,320.10 C226.52,321.70 229.88,323.82 232.60,325.90 C235.32,327.98 237.22,330.03 239.30,332.60 C241.38,335.17 243.40,338.58 245.10,341.30 C246.80,344.02 248.27,346.95 249.50,348.90 C250.73,350.85 251.22,350.15 252.50,353.00 C253.78,355.85 255.32,360.67 257.20,366.00 C259.08,371.33 261.63,378.83 263.80,385.00 C265.97,391.17 268.20,397.75 270.20,403.00 C272.20,408.25 273.97,412.70 275.80,416.50 C277.63,420.30 279.15,421.68 281.20,425.80 C283.25,429.92 285.93,436.08 288.10,441.20 C290.27,446.32 292.25,451.60 294.20,456.50 C296.15,461.40 298.87,468.25 299.80,470.60 C299.97,468.83 300.47,463.88 300.80,460.00 C301.13,456.12 301.48,453.13 301.80,447.30 C302.12,441.47 302.42,432.68 302.70,425.00 C302.98,417.32 303.20,409.53 303.50,401.20 C303.80,392.87 304.20,382.70 304.50,375.00 C304.80,367.30 305.10,360.83 305.30,355.00 C305.50,349.17 305.52,345.23 305.70,340.00 C305.88,334.77 306.05,328.25 306.40,323.60 C306.75,318.95 307.17,315.30 307.80,312.10 C308.43,308.90 309.32,306.13 310.20,304.40 C311.08,302.67 312.05,302.25 313.10,301.70 C314.15,301.15 315.02,301.20 316.50,301.10 C317.98,301.00 319.73,301.10 322.00,301.10 C324.27,301.10 328.75,301.10 330.10,301.10" fill="none" stroke="#4ba655" stroke-width="1.05" stroke-linejoin="round"/>
<path d="M168.70,310.30 C173.92,310.18 188.12,309.88 200.00,309.60 C211.88,309.32 229.67,308.95 240.00,308.60 C250.33,308.25 255.33,307.90 262.00,307.50 C268.67,307.10 275.40,306.78 280.00,306.20 C284.60,305.62 286.60,304.70 289.60,304.00 C292.60,303.30 295.77,302.45 298.00,302.00 C300.23,301.55 301.00,301.43 303.00,301.30 C305.00,301.17 305.55,301.22 310.00,301.20 C314.45,301.18 326.42,301.20 329.70,301.20" fill="none" stroke="#e8505e" stroke-width="1" stroke-linejoin="round"/>
<line x1="168.70" y1="307.40" x2="168.70" y2="313.20" stroke="#e8485a" stroke-width="1.1"/>
<line x1="329.70" y1="298.20" x2="329.70" y2="304.00" stroke="#e8485a" stroke-width="1.1"/>
<line x1="238.00" y1="308.10" x2="295.50" y2="470.90" stroke="#2e2e2e" stroke-width="1.0"/>
<line x1="299.60" y1="470.50" x2="299.60" y2="476.50" stroke="#e8283c" stroke-width="1" opacity="0.8"/>
<line x1="434.90" y1="267.30" x2="757.00" y2="267.30" stroke="#8e8e94" stroke-width="1.1"/>
<line x1="757.00" y1="267.30" x2="757.00" y2="495.50" stroke="#a9d9b5" stroke-width="1"/>
<line x1="437.40" y1="267.30" x2="437.40" y2="495.50" stroke="#8fc48f" stroke-width="1"/>
<line x1="434.90" y1="495.50" x2="757.00" y2="495.50" stroke="#8e8e94" stroke-width="1.1"/>
<line x1="434.60" y1="267.30" x2="437.40" y2="267.30" stroke="#8fc48f" stroke-width="1"/>
<line x1="435.90" y1="275.45" x2="437.40" y2="275.45" stroke="#8fc48f" stroke-width="0.9"/>
<line x1="435.90" y1="283.60" x2="437.40" y2="283.60" stroke="#8fc48f" stroke-width="0.9"/>
<line x1="435.90" y1="291.75" x2="437.40" y2="291.75" stroke="#8fc48f" stroke-width="0.9"/>
<line x1="434.60" y1="299.90" x2="437.40" y2="299.90" stroke="#8fc48f" stroke-width="1"/>
<line x1="435.90" y1="308.05" x2="437.40" y2="308.05" stroke="#8fc48f" stroke-width="0.9"/>
<line x1="435.90" y1="316.20" x2="437.40" y2="316.20" stroke="#8fc48f" stroke-width="0.9"/>
<line x1="435.90" y1="324.35" x2="437.40" y2="324.35" stroke="#8fc48f" stroke-width="0.9"/>
<line x1="434.60" y1="332.50" x2="437.40" y2="332.50" stroke="#8fc48f" stroke-width="1"/>
<line x1="435.90" y1="340.65" x2="437.40" y2="340.65" stroke="#8fc48f" stroke-width="0.9"/>
<line x1="435.90" y1="348.80" x2="437.40" y2="348.80" stroke="#8fc48f" stroke-width="0.9"/>
<line x1="435.90" y1="356.95" x2="437.40" y2="356.95" stroke="#8fc48f" stroke-width="0.9"/>
<line x1="434.60" y1="365.10" x2="437.40" y2="365.10" stroke="#8fc48f" stroke-width="1"/>
<line x1="435.90" y1="373.25" x2="437.40" y2="373.25" stroke="#8fc48f" stroke-width="0.9"/>
<line x1="435.90" y1="381.40" x2="437.40" y2="381.40" stroke="#8fc48f" stroke-width="0.9"/>
<line x1="435.90" y1="389.55" x2="437.40" y2="389.55" stroke="#8fc48f" stroke-width="0.9"/>
<line x1="434.60" y1="397.70" x2="437.40" y2="397.70" stroke="#8fc48f" stroke-width="1"/>
<line x1="435.90" y1="405.85" x2="437.40" y2="405.85" stroke="#8fc48f" stroke-width="0.9"/>
<line x1="435.90" y1="414.00" x2="437.40" y2="414.00" stroke="#8fc48f" stroke-width="0.9"/>
<line x1="435.90" y1="422.15" x2="437.40" y2="422.15" stroke="#8fc48f" stroke-width="0.9"/>
<line x1="434.60" y1="430.30" x2="437.40" y2="430.30" stroke="#8fc48f" stroke-width="1"/>
<line x1="435.90" y1="438.45" x2="437.40" y2="438.45" stroke="#8fc48f" stroke-width="0.9"/>
<line x1="435.90" y1="446.60" x2="437.40" y2="446.60" stroke="#8fc48f" stroke-width="0.9"/>
<line x1="435.90" y1="454.75" x2="437.40" y2="454.75" stroke="#8fc48f" stroke-width="0.9"/>
<line x1="434.60" y1="462.90" x2="437.40" y2="462.90" stroke="#8fc48f" stroke-width="1"/>
<line x1="435.90" y1="471.05" x2="437.40" y2="471.05" stroke="#8fc48f" stroke-width="0.9"/>
<line x1="435.90" y1="479.20" x2="437.40" y2="479.20" stroke="#8fc48f" stroke-width="0.9"/>
<line x1="435.90" y1="487.35" x2="437.40" y2="487.35" stroke="#8fc48f" stroke-width="0.9"/>
<line x1="434.60" y1="495.50" x2="437.40" y2="495.50" stroke="#8fc48f" stroke-width="1"/>
<text transform="translate(431.60,271.39) scale(0.930,1)" font-size="11.00" text-anchor="end" fill="#111" stroke="#111" stroke-width="0.22" font-weight="bold" font-family='"Liberation Serif", serif' >50</text>
<text transform="translate(429.10,302.64) scale(0.930,1)" font-size="11.00" text-anchor="end" fill="#111" stroke="#111" stroke-width="0.22" font-weight="bold" font-family='"Liberation Serif", serif' >0</text>
<text transform="translate(431.60,334.99) scale(0.930,1)" font-size="11.00" text-anchor="end" fill="#111" stroke="#111" stroke-width="0.22" font-weight="bold" font-family='"Liberation Serif", serif' >-50</text>
<text transform="translate(431.60,367.89) scale(0.930,1)" font-size="11.00" text-anchor="end" fill="#111" stroke="#111" stroke-width="0.22" font-weight="bold" font-family='"Liberation Serif", serif' >-100</text>
<text transform="translate(431.60,401.29) scale(0.930,1)" font-size="11.00" text-anchor="end" fill="#111" stroke="#111" stroke-width="0.22" font-weight="bold" font-family='"Liberation Serif", serif' >-150</text>
<text transform="translate(431.60,434.64) scale(0.930,1)" font-size="11.00" text-anchor="end" fill="#111" stroke="#111" stroke-width="0.22" font-weight="bold" font-family='"Liberation Serif", serif' >-200</text>
<text transform="translate(431.60,465.89) scale(0.930,1)" font-size="11.00" text-anchor="end" fill="#111" stroke="#111" stroke-width="0.22" font-weight="bold" font-family='"Liberation Serif", serif' >-250</text>
<text transform="translate(431.60,497.99) scale(0.930,1)" font-size="11.00" text-anchor="end" fill="#111" stroke="#111" stroke-width="0.22" font-weight="bold" font-family='"Liberation Serif", serif' >-300</text>
<line x1="437.40" y1="495.50" x2="437.40" y2="498.10" stroke="#8e8e94" stroke-width="0.9"/>
<line x1="450.72" y1="495.50" x2="450.72" y2="496.90" stroke="#8e8e94" stroke-width="0.9"/>
<line x1="464.03" y1="495.50" x2="464.03" y2="496.90" stroke="#8e8e94" stroke-width="0.9"/>
<line x1="477.35" y1="495.50" x2="477.35" y2="496.90" stroke="#8e8e94" stroke-width="0.9"/>
<line x1="490.67" y1="495.50" x2="490.67" y2="498.10" stroke="#8e8e94" stroke-width="0.9"/>
<line x1="503.98" y1="495.50" x2="503.98" y2="496.90" stroke="#8e8e94" stroke-width="0.9"/>
<line x1="517.30" y1="495.50" x2="517.30" y2="496.90" stroke="#8e8e94" stroke-width="0.9"/>
<line x1="530.62" y1="495.50" x2="530.62" y2="496.90" stroke="#8e8e94" stroke-width="0.9"/>
<line x1="543.93" y1="495.50" x2="543.93" y2="498.10" stroke="#8e8e94" stroke-width="0.9"/>
<line x1="557.25" y1="495.50" x2="557.25" y2="496.90" stroke="#8e8e94" stroke-width="0.9"/>
<line x1="570.57" y1="495.50" x2="570.57" y2="496.90" stroke="#8e8e94" stroke-width="0.9"/>
<line x1="583.88" y1="495.50" x2="583.88" y2="496.90" stroke="#8e8e94" stroke-width="0.9"/>
<line x1="597.20" y1="495.50" x2="597.20" y2="498.10" stroke="#8e8e94" stroke-width="0.9"/>
<line x1="610.52" y1="495.50" x2="610.52" y2="496.90" stroke="#8e8e94" stroke-width="0.9"/>
<line x1="623.83" y1="495.50" x2="623.83" y2="496.90" stroke="#8e8e94" stroke-width="0.9"/>
<line x1="637.15" y1="495.50" x2="637.15" y2="496.90" stroke="#8e8e94" stroke-width="0.9"/>
<line x1="650.47" y1="495.50" x2="650.47" y2="498.10" stroke="#8e8e94" stroke-width="0.9"/>
<line x1="663.78" y1="495.50" x2="663.78" y2="496.90" stroke="#8e8e94" stroke-width="0.9"/>
<line x1="677.10" y1="495.50" x2="677.10" y2="496.90" stroke="#8e8e94" stroke-width="0.9"/>
<line x1="690.42" y1="495.50" x2="690.42" y2="496.90" stroke="#8e8e94" stroke-width="0.9"/>
<line x1="703.73" y1="495.50" x2="703.73" y2="498.10" stroke="#8e8e94" stroke-width="0.9"/>
<line x1="717.05" y1="495.50" x2="717.05" y2="496.90" stroke="#8e8e94" stroke-width="0.9"/>
<line x1="730.37" y1="495.50" x2="730.37" y2="496.90" stroke="#8e8e94" stroke-width="0.9"/>
<line x1="743.68" y1="495.50" x2="743.68" y2="496.90" stroke="#8e8e94" stroke-width="0.9"/>
<line x1="757.00" y1="495.50" x2="757.00" y2="498.10" stroke="#8e8e94" stroke-width="0.9"/>
<text transform="translate(490.57,506.90) scale(0.960,1)" font-size="11.00" text-anchor="middle" fill="#111" stroke="#111" stroke-width="0.22" font-weight="bold" font-family='"Liberation Serif", serif' >2</text>
<text transform="translate(543.41,506.90) scale(0.960,1)" font-size="11.00" text-anchor="middle" fill="#111" stroke="#111" stroke-width="0.22" font-weight="bold" font-family='"Liberation Serif", serif' >4</text>
<text transform="translate(596.26,506.90) scale(0.960,1)" font-size="11.00" text-anchor="middle" fill="#111" stroke="#111" stroke-width="0.22" font-weight="bold" font-family='"Liberation Serif", serif' >6</text>
<text transform="translate(649.10,506.90) scale(0.960,1)" font-size="11.00" text-anchor="middle" fill="#111" stroke="#111" stroke-width="0.22" font-weight="bold" font-family='"Liberation Serif", serif' >8</text>
<text transform="translate(701.95,506.90) scale(0.960,1)" font-size="11.00" text-anchor="middle" fill="#111" stroke="#111" stroke-width="0.22" font-weight="bold" font-family='"Liberation Serif", serif' >10</text>
<text transform="translate(754.80,506.90) scale(0.960,1)" font-size="11.00" text-anchor="middle" fill="#111" stroke="#111" stroke-width="0.22" font-weight="bold" font-family='"Liberation Serif", serif' >12</text>
<text x="437.40" y="504.10" font-size="7.00" text-anchor="middle" fill="#c8905a" stroke="#c8905a" stroke-width="0.22" font-weight="normal" font-family='"Liberation Serif", serif' >0</text>
<line x1="469.10" y1="495.50" x2="469.10" y2="492.50" stroke="#8e8e94" stroke-width="0.9"/>
<text transform="translate(469.50,488.40) scale(0.960,1)" font-size="11.00" text-anchor="middle" fill="#111" stroke="#111" stroke-width="0.22" font-weight="bold" font-family='"Liberation Serif", serif' >40</text>
<line x1="495.70" y1="495.50" x2="495.70" y2="492.50" stroke="#8e8e94" stroke-width="0.9"/>
<text transform="translate(496.30,488.40) scale(0.960,1)" font-size="11.00" text-anchor="middle" fill="#111" stroke="#111" stroke-width="0.22" font-weight="bold" font-family='"Liberation Serif", serif' >50</text>
<line x1="522.30" y1="495.50" x2="522.30" y2="492.50" stroke="#8e8e94" stroke-width="0.9"/>
<text transform="translate(522.90,488.40) scale(0.960,1)" font-size="11.00" text-anchor="middle" fill="#111" stroke="#111" stroke-width="0.22" font-weight="bold" font-family='"Liberation Serif", serif' >60</text>
<line x1="549.10" y1="495.50" x2="549.10" y2="492.50" stroke="#8e8e94" stroke-width="0.9"/>
<text transform="translate(550.40,488.40) scale(0.960,1)" font-size="11.00" text-anchor="middle" fill="#111" stroke="#111" stroke-width="0.22" font-weight="bold" font-family='"Liberation Serif", serif' >70</text>
<line x1="575.90" y1="495.50" x2="575.90" y2="492.50" stroke="#8e8e94" stroke-width="0.9"/>
<text transform="translate(576.50,488.40) scale(0.960,1)" font-size="11.00" text-anchor="middle" fill="#111" stroke="#111" stroke-width="0.22" font-weight="bold" font-family='"Liberation Serif", serif' >80</text>
<line x1="604.50" y1="495.50" x2="604.50" y2="492.50" stroke="#8e8e94" stroke-width="0.9"/>
<text transform="translate(605.00,488.40) scale(0.960,1)" font-size="11.00" text-anchor="middle" fill="#111" stroke="#111" stroke-width="0.22" font-weight="bold" font-family='"Liberation Serif", serif' >90</text>
<line x1="633.00" y1="495.50" x2="633.00" y2="492.50" stroke="#8e8e94" stroke-width="0.9"/>
<text transform="translate(633.30,488.40) scale(0.960,1)" font-size="11.00" text-anchor="middle" fill="#111" stroke="#111" stroke-width="0.22" font-weight="bold" font-family='"Liberation Serif", serif' >100</text>
<line x1="686.00" y1="495.50" x2="686.00" y2="492.50" stroke="#8e8e94" stroke-width="0.9"/>
<text transform="translate(684.80,488.40) scale(0.960,1)" font-size="11.00" text-anchor="middle" fill="#111" stroke="#111" stroke-width="0.22" font-weight="bold" font-family='"Liberation Serif", serif' >110</text>
<line x1="708.00" y1="495.50" x2="708.00" y2="492.50" stroke="#8e8e94" stroke-width="0.9"/>
<text transform="translate(707.30,488.40) scale(0.960,1)" font-size="11.00" text-anchor="middle" fill="#111" stroke="#111" stroke-width="0.22" font-weight="bold" font-family='"Liberation Serif", serif' >130</text>
<line x1="727.00" y1="495.50" x2="727.00" y2="492.50" stroke="#8e8e94" stroke-width="0.9"/>
<text transform="translate(727.70,488.40) scale(0.960,1)" font-size="11.00" text-anchor="middle" fill="#111" stroke="#111" stroke-width="0.22" font-weight="bold" font-family='"Liberation Serif", serif' >137</text>
<path d="M437.40,299.80 C437.83,299.90 438.98,300.03 440.00,300.40 C441.02,300.77 442.33,301.47 443.50,302.00 C444.67,302.53 445.58,303.17 447.00,303.60 C448.42,304.03 449.83,304.37 452.00,304.60 C454.17,304.83 448.67,304.70 460.00,305.00 C471.33,305.30 500.12,305.73 520.00,306.40 C539.88,307.07 567.63,308.33 579.30,309.00 C590.97,309.67 586.17,309.78 590.00,310.40 C593.83,311.02 598.20,311.68 602.30,312.70 C606.40,313.72 611.02,315.10 614.60,316.50 C618.18,317.90 620.98,319.43 623.80,321.10 C626.62,322.77 629.45,324.97 631.50,326.50 C633.55,328.03 634.88,329.28 636.10,330.30 C637.32,331.32 638.35,332.22 638.80,332.60 C639.25,333.75 640.28,336.30 641.50,339.50 C642.72,342.70 644.45,347.70 646.10,351.80 C647.75,355.90 650.00,360.23 651.40,364.10 C652.80,367.97 652.57,369.02 654.50,375.00 C656.43,380.98 659.92,390.83 663.00,400.00 C666.08,409.17 670.00,421.00 673.00,430.00 C676.00,439.00 679.17,449.00 681.00,454.00 C682.83,459.00 683.10,458.53 684.00,460.00 C684.90,461.47 686.00,462.33 686.40,462.80 C686.65,461.67 687.08,458.45 687.40,455.00 C687.72,451.55 687.97,452.10 688.40,442.30 C688.83,432.50 689.53,411.58 690.00,396.20 C690.47,380.82 690.85,360.97 691.20,350.00 C691.55,339.03 691.77,336.55 692.10,330.40 C692.43,324.25 692.68,317.33 693.20,313.10 C693.72,308.87 694.48,306.93 695.20,305.00 C695.92,303.07 696.63,302.30 697.50,301.50 C698.37,300.70 699.15,300.48 700.40,300.20 C701.65,299.92 700.72,299.87 705.00,299.80 C709.28,299.73 722.58,299.80 726.10,299.80" fill="none" stroke="#4ba655" stroke-width="1.05" stroke-linejoin="round"/>
<path d="M579.30,309.10 C584.42,309.12 601.05,309.22 610.00,309.20 C618.95,309.18 625.50,309.37 633.00,309.00 C640.50,308.63 648.50,307.92 655.00,307.00 C661.50,306.08 667.17,304.57 672.00,303.50 C676.83,302.43 680.67,301.20 684.00,300.60 C687.33,300.00 688.40,300.02 692.00,299.90 C695.60,299.78 703.33,299.90 705.60,299.90" fill="none" stroke="#e8505e" stroke-width="1" stroke-linejoin="round"/>
<line x1="579.30" y1="306.20" x2="579.30" y2="312.00" stroke="#e8485a" stroke-width="1.1"/>
<line x1="705.60" y1="297.00" x2="705.60" y2="302.80" stroke="#e8485a" stroke-width="1.1"/>
<line x1="633.00" y1="306.50" x2="684.50" y2="462.90" stroke="#2e2e2e" stroke-width="1.0"/>
<line x1="686.50" y1="462.80" x2="686.50" y2="468.80" stroke="#e8283c" stroke-width="1" opacity="0.8"/>
<text x="4.92" y="21.10" font-size="19.50" fill="#111" stroke="#111" stroke-width="0.22" font-weight="bold" font-family="'Liberation Serif', serif" textLength="12.54" lengthAdjust="spacingAndGlyphs">A</text>
<text x="330.10" y="26.30" font-size="16.50" fill="#111" stroke="#111" stroke-width="0.22" font-weight="bold" font-family="'Liberation Serif', serif" textLength="23.90" lengthAdjust="spacingAndGlyphs">CK</text>
<text x="214.44" y="22.06" font-size="11.00" fill="#e8283c" stroke="#e8283c" stroke-width="0.22" font-weight="bold" font-family="'Liberation Serif', serif" textLength="44.28" lengthAdjust="spacingAndGlyphs">100.41 <tspan font-size="8" dy="-3.8">o</tspan><tspan dy="3.8">C</tspan></text>
<text x="216.76" y="41.28" font-size="11.00" fill="#e8283c" stroke="#e8283c" stroke-width="0.22" font-weight="bold" font-family="'Liberation Serif', serif" textLength="40.26" lengthAdjust="spacingAndGlyphs">2153 <tspan dy="-0.8" font-family="'Liberation Sans', sans-serif">J/g</tspan></text>
<text x="239.44" y="220.22" font-size="11.00" fill="#e8283c" stroke="#e8283c" stroke-width="0.22" font-weight="bold" font-family="'Liberation Serif', serif" textLength="41.10" lengthAdjust="spacingAndGlyphs">108.52<tspan font-size="8" dy="-3.8">o</tspan><tspan dy="3.8">C</tspan></text>
<text x="159.58" y="212.98" font-size="11.00" fill="#111" stroke="#111" stroke-width="0.22" font-weight="bold" font-family="'Liberation Serif', serif" textLength="78.57" lengthAdjust="spacingAndGlyphs">Temperature (<tspan font-size="8" dy="-3.8">o</tspan><tspan dy="3.8">C</tspan>)</text>
<text x="173.84" y="258.24" font-size="11.00" fill="#111" stroke="#111" stroke-width="0.22" font-weight="bold" font-family="'Liberation Serif', serif" textLength="48.83" lengthAdjust="spacingAndGlyphs">Time (min)</text>
<text transform="translate(9.48,168.82) rotate(-90)" font-size="11.00" fill="#111" stroke="#111" stroke-width="0.22" font-weight="bold" font-family="'Liberation Serif', serif" textLength="75.76" lengthAdjust="spacingAndGlyphs">Heat Flow (mW)</text>
<text x="398.92" y="21.10" font-size="19.50" fill="#111" stroke="#111" stroke-width="0.22" font-weight="bold" font-family="'Liberation Serif', serif" textLength="11.43" lengthAdjust="spacingAndGlyphs">B</text>
<text x="711.18" y="26.30" font-size="16.50" fill="#111" stroke="#111" stroke-width="0.22" font-weight="bold" font-family="'Liberation Serif', serif" textLength="39.03" lengthAdjust="spacingAndGlyphs">UV-C</text>
<text x="613.44" y="22.22" font-size="11.00" fill="#e8283c" stroke="#e8283c" stroke-width="0.22" font-weight="bold" font-family="'Liberation Serif', serif" textLength="44.69" lengthAdjust="spacingAndGlyphs">100.85 <tspan font-size="8" dy="-3.8">o</tspan><tspan dy="3.8">C</tspan></text>
<text x="615.18" y="40.74" font-size="11.00" fill="#e8283c" stroke="#e8283c" stroke-width="0.22" font-weight="bold" font-family="'Liberation Serif', serif" textLength="40.46" lengthAdjust="spacingAndGlyphs">2052 <tspan dy="-0.8" font-family="'Liberation Sans', sans-serif">J/g</tspan></text>
<text x="642.28" y="220.64" font-size="11.00" fill="#e8283c" stroke="#e8283c" stroke-width="0.22" font-weight="bold" font-family="'Liberation Serif', serif" textLength="42.15" lengthAdjust="spacingAndGlyphs">109.94<tspan font-size="8" dy="-3.8">o</tspan><tspan dy="3.8">C</tspan></text>
<text x="563.84" y="212.98" font-size="11.00" fill="#111" stroke="#111" stroke-width="0.22" font-weight="bold" font-family="'Liberation Serif', serif" textLength="79.63" lengthAdjust="spacingAndGlyphs">Temperature (<tspan font-size="8" dy="-3.8">o</tspan><tspan dy="3.8">C</tspan>)</text>
<text x="575.58" y="258.48" font-size="11.00" fill="#111" stroke="#111" stroke-width="0.22" font-weight="bold" font-family="'Liberation Serif', serif" textLength="49.23" lengthAdjust="spacingAndGlyphs">Time (min)</text>
<text transform="translate(403.78,168.16) rotate(-90)" font-size="11.00" fill="#111" stroke="#111" stroke-width="0.22" font-weight="bold" font-family="'Liberation Serif', serif" textLength="74.98" lengthAdjust="spacingAndGlyphs">Heat Flow (mW)</text>
<text x="4.60" y="280.10" font-size="19.50" fill="#111" stroke="#111" stroke-width="0.22" font-weight="bold" font-family="'Liberation Serif', serif" textLength="14.95" lengthAdjust="spacingAndGlyphs">C</text>
<text x="317.84" y="284.06" font-size="16.50" fill="#111" stroke="#111" stroke-width="0.22" font-weight="bold" font-family="'Liberation Serif', serif" textLength="36.85" lengthAdjust="spacingAndGlyphs">L-cys</text>
<text x="213.94" y="282.06" font-size="11.00" fill="#e8283c" stroke="#e8283c" stroke-width="0.22" font-weight="bold" font-family="'Liberation Serif', serif" textLength="44.05" lengthAdjust="spacingAndGlyphs">100.68 <tspan font-size="8" dy="-3.8">o</tspan><tspan dy="3.8">C</tspan></text>
<text x="216.26" y="300.82" font-size="11.00" fill="#e8283c" stroke="#e8283c" stroke-width="0.22" font-weight="bold" font-family="'Liberation Serif', serif" textLength="39.67" lengthAdjust="spacingAndGlyphs">2058 <tspan dy="-0.8" font-family="'Liberation Sans', sans-serif">J/g</tspan></text>
<text x="254.86" y="481.80" font-size="11.00" fill="#e8283c" stroke="#e8283c" stroke-width="0.22" font-weight="bold" font-family="'Liberation Serif', serif" textLength="41.81" lengthAdjust="spacingAndGlyphs">113.49<tspan font-size="8" dy="-3.8">o</tspan><tspan dy="3.8">C</tspan></text>
<text x="159.58" y="473.22" font-size="11.00" fill="#111" stroke="#111" stroke-width="0.22" font-weight="bold" font-family="'Liberation Serif', serif" textLength="78.57" lengthAdjust="spacingAndGlyphs">Temperature (<tspan font-size="8" dy="-3.8">o</tspan><tspan dy="3.8">C</tspan>)</text>
<text x="169.42" y="515.66" font-size="11.00" fill="#111" stroke="#111" stroke-width="0.22" font-weight="bold" font-family="'Liberation Serif', serif" textLength="49.68" lengthAdjust="spacingAndGlyphs">Time (min)</text>
<text transform="translate(10.20,423.16) rotate(-90)" font-size="11.00" fill="#111" stroke="#111" stroke-width="0.22" font-weight="bold" font-family="'Liberation Serif', serif" textLength="75.60" lengthAdjust="spacingAndGlyphs">Heat Flow (mW)</text>
<text x="397.42" y="280.68" font-size="19.50" fill="#111" stroke="#111" stroke-width="0.22" font-weight="bold" font-family="'Liberation Serif', serif" textLength="13.51" lengthAdjust="spacingAndGlyphs">D</text>
<text x="673.10" y="284.80" font-size="16.50" fill="#111" stroke="#111" stroke-width="0.22" font-weight="bold" font-family="'Liberation Serif', serif" textLength="80.49" lengthAdjust="spacingAndGlyphs">UV-C/L-cys</text>
<text x="613.44" y="279.64" font-size="11.00" fill="#e8283c" stroke="#e8283c" stroke-width="0.22" font-weight="bold" font-family="'Liberation Serif', serif" textLength="44.69" lengthAdjust="spacingAndGlyphs">100.36 <tspan font-size="8" dy="-3.8">o</tspan><tspan dy="3.8">C</tspan></text>
<text x="615.18" y="298.32" font-size="11.00" fill="#e8283c" stroke="#e8283c" stroke-width="0.22" font-weight="bold" font-family="'Liberation Serif', serif" textLength="40.46" lengthAdjust="spacingAndGlyphs">2031 <tspan dy="-0.8" font-family="'Liberation Sans', sans-serif">J/g</tspan></text>
<text x="645.02" y="477.48" font-size="11.00" fill="#e8283c" stroke="#e8283c" stroke-width="0.22" font-weight="bold" font-family="'Liberation Serif', serif" textLength="41.55" lengthAdjust="spacingAndGlyphs">110.61<tspan font-size="8" dy="-3.8">o</tspan><tspan dy="3.8">C</tspan></text>
<text x="565.08" y="475.06" font-size="11.00" fill="#111" stroke="#111" stroke-width="0.22" font-weight="bold" font-family="'Liberation Serif', serif" textLength="77.41" lengthAdjust="spacingAndGlyphs">Temperature (<tspan font-size="8" dy="-3.8">o</tspan><tspan dy="3.8">C</tspan>)</text>
<text x="573.58" y="516.24" font-size="11.00" fill="#111" stroke="#111" stroke-width="0.22" font-weight="bold" font-family="'Liberation Serif', serif" textLength="48.03" lengthAdjust="spacingAndGlyphs">Time (min)</text>
<text transform="translate(406.64,422.40) rotate(-90)" font-size="11.00" fill="#111" stroke="#111" stroke-width="0.22" font-weight="bold" font-family="'Liberation Serif', serif" textLength="75.22" lengthAdjust="spacingAndGlyphs">Heat Flow (mW)</text>
</svg>
</body></html>
